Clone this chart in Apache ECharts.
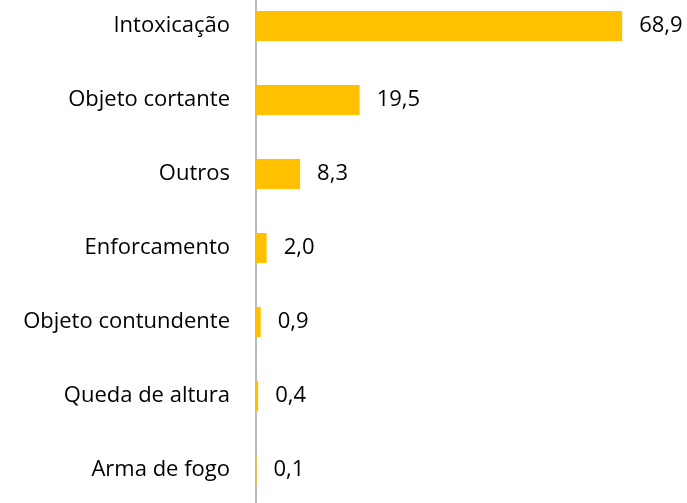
<!DOCTYPE html>
<html>
<head>
<meta charset="utf-8">
<script src="https://cdn.jsdelivr.net/npm/echarts@6/dist/echarts.min.js"></script>
<style>
  html, body { margin: 0; padding: 0; background: #fff; overflow: hidden; }
  /* rows in the original are taller than the page allows, so the chart is shifted up */
  #chart { width: 687px; height: 518px; margin-top: -11px; }
</style>
</head>
<body>
<div id="chart"></div>
<script>
const categories = [
  "Intoxicação",
  "Objeto cortante",
  "Outros",
  "Enforcamento",
  "Objeto contundente",
  "Queda de altura",
  "Arma de fogo"
];
const values = [68.9, 19.5, 8.3, 2.0, 0.9, 0.4, 0.1];

const fmt = (v) => v.toFixed(1).replace(".", ",");

const myChart = echarts.init(document.getElementById("chart"));
myChart.setOption({
  animation: false,
  grid: { left: 256, right: 59, top: 0, bottom: 0, containLabel: false },
  xAxis: {
    type: "value",
    min: 0,
    max: 70,
    show: false
  },
  yAxis: {
    type: "category",
    data: categories,
    inverse: true,
    axisLine: { show: true, lineStyle: { color: "#A6A6A6", width: 1.5 } },
    axisTick: { show: false },
    axisLabel: {
      color: "#000",
      fontSize: 22,
      fontFamily: "Open Sans",
      margin: 26
    }
  },
  series: [{
    type: "bar",
    data: values,
    barWidth: 30,
    itemStyle: { color: "#FFC000" },
    label: {
      show: true,
      position: "right",
      distance: 17,
      color: "#000",
      fontSize: 22,
      fontFamily: "Open Sans",
      formatter: (p) => fmt(p.value)
    }
  }]
});
</script>
</body>
</html>
